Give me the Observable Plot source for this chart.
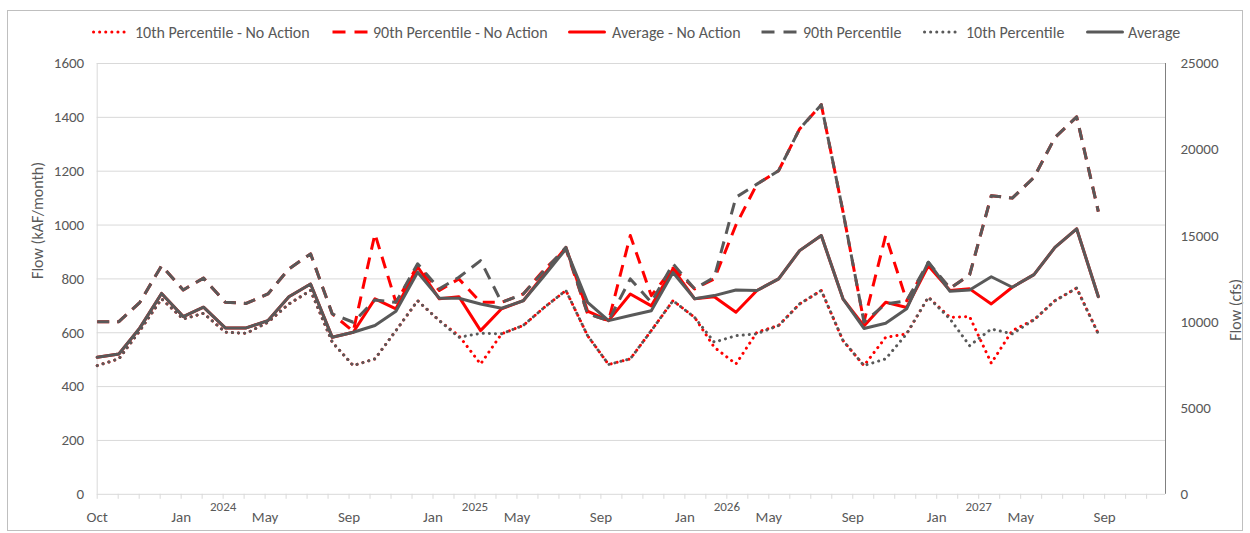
<!DOCTYPE html>
<html><head><meta charset="utf-8">
<script src="https://cdn.jsdelivr.net/npm/d3@7"></script>
<script src="https://cdn.jsdelivr.net/npm/@observablehq/plot@0.6"></script>
<style>
body{margin:0;background:#fff;}
#wrap{position:relative;width:1250px;height:533px;font-family:Calibri,Carlito,Lato,sans-serif;background:#fff;}
#chart{position:absolute;left:0;top:0;}
#frame{position:absolute;left:7px;top:10px;width:1236px;height:521px;border:1px solid #bfbfbf;box-sizing:border-box;pointer-events:none;}
.leg{position:absolute;top:23px;height:18px;display:flex;align-items:center;font-size:16px;color:#595959;white-space:nowrap;}
</style></head><body>
<div id="wrap"><div id="chart"></div><div id="frame"></div><div id="legend"></div></div>
<script>
// ---- data ----
const startDate = "2023-10-01";   // first month (Oct 2023)
const endDate = "2027-10-01";     // exclusive (last month Sep 2027)
const seriesNames = ["10th Percentile - No Action","90th Percentile - No Action","Average - No Action","90th Percentile","10th Percentile","Average"];

const p10NoAction = [478,503,608,726,651,672,602,598,639,707,757,565,478,503,608,719,645,589,484,596,627,694,757,589,482,503,608,719,657,546,484,602,627,707,757,571,478,583,596,732,657,660,487,608,648,719,766,596];
const p90NoAction = [641,641,713,849,759,803,713,709,744,837,893,670,605,967,713,849,757,800,713,713,744,835,911,670,645,961,738,840,763,800,1000,1152,1202,1357,1447,1050,640,961,719,856,765,815,1109,1100,1177,1325,1402,1050];
const avgNoAction = [509,521,618,746,660,695,618,618,645,734,781,583,602,726,689,845,726,734,608,689,719,818,917,680,645,744,700,837,726,734,676,757,800,905,961,726,625,713,694,849,757,763,707,769,816,917,986,734];
const p90 = [641,641,713,849,759,803,713,709,744,837,893,670,639,722,713,856,763,806,868,713,744,831,917,670,645,800,713,856,763,806,1103,1152,1202,1357,1447,1050,640,707,719,862,765,815,1109,1100,1177,1325,1402,1050];
const p10 = [478,503,608,726,651,672,602,598,639,707,757,565,478,503,608,719,645,583,598,596,627,694,757,589,482,503,608,719,657,565,589,596,627,707,757,571,478,503,596,732,651,552,614,596,648,719,766,596];
const avg = [509,521,618,746,660,695,618,618,645,734,781,583,602,627,680,825,728,728,707,691,719,812,911,713,645,664,682,824,726,738,759,757,800,905,961,726,616,635,689,862,754,759,808,769,816,917,986,734];

const leftTicks = [0,200,400,600,800,1000,1200,1400,1600];
const rightTicks = [0,5000,10000,15000,20000,25000];
const rightMax = 25000, leftMax = 1600;
const labelStepDays = 120, minorStepDays = 30, axisSpanDays = 1527;
const yearLabels = ["2024","2025","2026","2027"];
const yearLabelDays = [180,540,900,1260];

// ---- build ----
const months = d3.utcMonth.range(new Date(startDate), new Date(endDate));
const t0 = new Date(startDate);
const tEnd = d3.utcDay.offset(t0, axisSpanDays);
const labelDates = d3.range(0, axisSpanDays, labelStepDays).map(d => d3.utcDay.offset(t0, d));
const minorDates = d3.range(0, axisSpanDays, minorStepDays).map(d => d3.utcDay.offset(t0, d));
const yearRows = yearLabels.map((t,i) => ({date: d3.utcDay.offset(t0, yearLabelDays[i]), text: t}));

const RED = "#ff0000", GREY = "#595959";
const styles = [
  {values:p10NoAction, color:RED, dash:"0.1,6", cap:"round"},
  {values:p90NoAction, color:RED, dash:"12,8", cap:"butt"},
  {values:avgNoAction, color:RED, dash:null, cap:"round"},
  {values:p90, color:GREY, dash:"12,8", cap:"butt"},
  {values:p10, color:GREY, dash:"0.1,6", cap:"round"},
  {values:avg, color:GREY, dash:null, cap:"round"}
];
const lineMarks = styles.map((s, k) => Plot.line(
  s.values.map((v,i) => ({date: months[i], value: v, series: seriesNames[k]})),
  {x:"date", y:"value", stroke:s.color, strokeWidth:3, strokeDasharray:s.dash || undefined, strokeLinecap:s.cap, strokeLinejoin:"round"}
));

const txt = "#595959";
const chart = Plot.plot({
  width: 1250, height: 533,
  marginTop: 63, marginBottom: 39.2, marginLeft: 96.7, marginRight: 85,
  style: {fontFamily: "Calibri, Carlito, Lato, sans-serif", background: "transparent"},
  x: {type: "utc", domain: [t0, tEnd]},
  y: {domain: [0, leftMax]},
  marks: [
    Plot.gridY(leftTicks.slice(1), {stroke: "#d9d9d9", strokeOpacity: 1, strokeWidth: 1}),
    Plot.ruleX([t0], {stroke: "#d9d9d9", strokeWidth: 1}),
    Plot.ruleY([0], {stroke: "#d9d9d9", strokeWidth: 1}),
    Plot.ruleX([tEnd], {stroke: "#808080", strokeWidth: 1}),
    Plot.axisX({ticks: minorDates, tickSize: 5, tickFormat: () => "", stroke: "#d9d9d9", label: null}),
    Plot.axisX({ticks: labelDates, tickSize: 0, tickPadding: 17, tickFormat: "%b", fontSize: 15, fill: txt, label: null}),
    Plot.text(yearRows, {x: "date", text: "text", frameAnchor: "bottom", dy: 17, fontSize: 13, fill: txt}),
    Plot.axisY({ticks: leftTicks, tickSize: 0, tickPadding: 13, tickFormat: d => String(d), fontSize: 15, fill: txt, label: null}),
    Plot.axisY({anchor: "right", ticks: rightTicks.map(v => v * leftMax / rightMax), tickSize: 0, tickPadding: 15,
                tickFormat: d => String(Math.round(d * rightMax / leftMax)), fontSize: 15, fill: txt, label: null}),
    Plot.text(["Flow (kAF/month)"], {frameAnchor: "left", dx: -59, rotate: -90, fontSize: 16, fill: txt}),
    Plot.text(["Flow (cfs)"], {frameAnchor: "right", dx: 70, rotate: -90, fontSize: 16, fill: txt}),
    ...lineMarks
  ]
});
document.getElementById("chart").appendChild(chart);

// ---- legend ----
const legendPos = [[92,135],[331,373],[568,612],[760,803],[923,966],[1086,1128]];
const legend = document.getElementById("legend");
styles.forEach((s, k) => {
  const sw = document.createElementNS("http://www.w3.org/2000/svg", "svg");
  sw.setAttribute("width", 38); sw.setAttribute("height", 8);
  sw.style.position = "absolute"; sw.style.left = legendPos[k][0] + "px"; sw.style.top = "28px";
  const ln = document.createElementNS("http://www.w3.org/2000/svg", "line");
  ln.setAttribute("x1", 1.5); ln.setAttribute("x2", 36.5); ln.setAttribute("y1", 4); ln.setAttribute("y2", 4);
  ln.setAttribute("stroke", s.color); ln.setAttribute("stroke-width", 3);
  ln.setAttribute("stroke-linecap", s.cap);
  if (s.dash) ln.setAttribute("stroke-dasharray", s.dash === "12,8" ? "13,9" : s.dash);
  sw.appendChild(ln);
  legend.appendChild(sw);
  const t = document.createElement("div");
  t.className = "leg"; t.style.left = legendPos[k][1] + "px"; t.textContent = seriesNames[k];
  legend.appendChild(t);
});
</script>
</body></html>
